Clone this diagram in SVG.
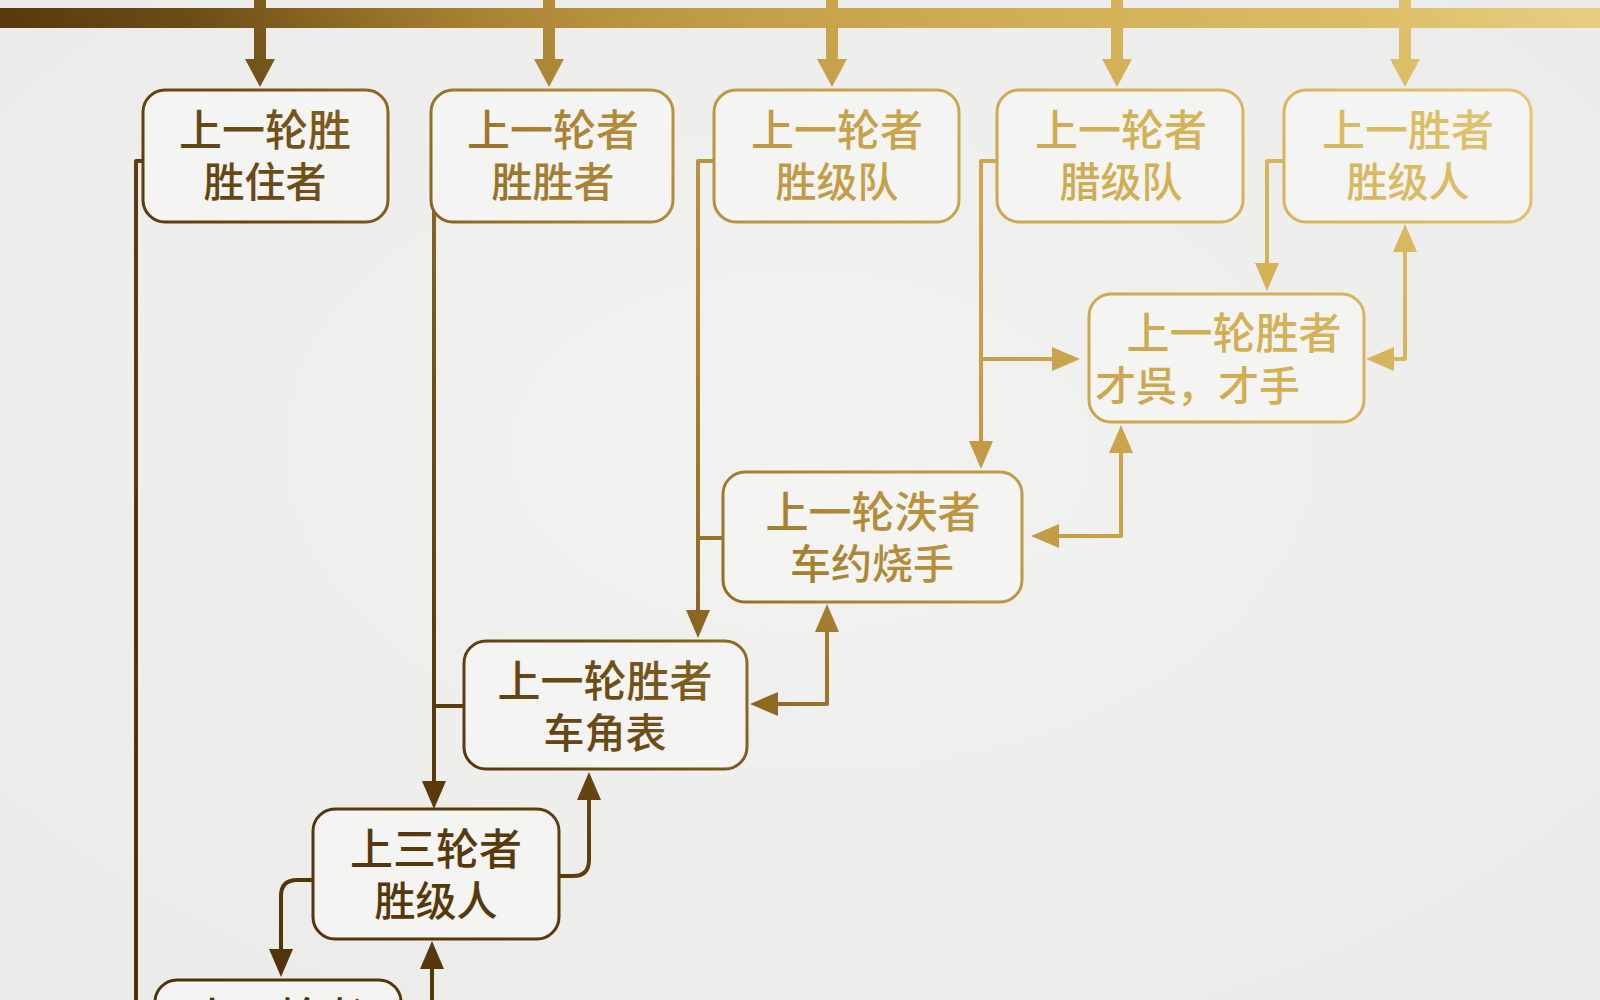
<svg xmlns="http://www.w3.org/2000/svg" width="1600" height="1000" viewBox="0 0 1600 1000">
<defs>
<linearGradient id="gold" gradientUnits="userSpaceOnUse" x1="0" y1="1000" x2="1600" y2="0">
<stop offset="0" stop-color="#4a2f08"/>
<stop offset="0.28" stop-color="#5a3a0c"/>
<stop offset="0.36" stop-color="#6c4c16"/>
<stop offset="0.43" stop-color="#8e6a24"/>
<stop offset="0.49" stop-color="#a88232"/>
<stop offset="0.55" stop-color="#b8923e"/>
<stop offset="0.62" stop-color="#c6a048"/>
<stop offset="0.75" stop-color="#d2b055"/>
<stop offset="0.88" stop-color="#dbbc63"/>
<stop offset="1" stop-color="#e7cf85"/>
</linearGradient>
<radialGradient id="bg" cx="0.5" cy="0.45" r="0.75">
<stop offset="0" stop-color="#f2f2f0"/>
<stop offset="1" stop-color="#eaeae8"/>
</radialGradient>
</defs>
<style>
.box{fill:#f4f4f2;stroke:url(#gold);stroke-width:3}
.t1{font-family:"Noto Sans CJK SC","Noto Sans",sans-serif;font-size:43px;font-weight:500;fill:url(#gold);text-anchor:middle}
.t2{font-family:"Noto Sans CJK SC","Noto Sans",sans-serif;font-size:41px;font-weight:500;fill:url(#gold);text-anchor:middle}
.ln{fill:none;stroke:url(#gold);stroke-width:4;stroke-linejoin:round}
.head{fill:url(#gold)}
.bar{fill:url(#gold)}
</style>
<rect width="1600" height="1000" fill="url(#bg)"/>

<g id="topbar">
<rect class="bar" x="0" y="8" width="1600" height="20"/>
<rect class="bar" x="254" y="0" width="12" height="62"/>
<polygon class="head" points="245,59 275,59 260,87"/>
<rect class="bar" x="543" y="0" width="12" height="62"/>
<polygon class="head" points="534,59 564,59 549,87"/>
<rect class="bar" x="826" y="0" width="12" height="62"/>
<polygon class="head" points="817,59 847,59 832,87"/>
<rect class="bar" x="1111" y="0" width="12" height="62"/>
<polygon class="head" points="1102,59 1132,59 1117,87"/>
<rect class="bar" x="1399" y="0" width="12" height="62"/>
<polygon class="head" points="1390,59 1420,59 1405,87"/>
</g>

<g id="connectors">
<path class="ln" d="M143,161 H136 V1000"/>
<path class="ln" d="M434,165 V782"/>
<path class="ln" d="M434,706 H464"/>
<polygon class="head" points="422,781 446,781 434,809"/>
<path class="ln" d="M714,161 H698 V611"/>
<path class="ln" d="M698,538 H723"/>
<polygon class="head" points="686,610 710,610 698,638"/>
<path class="ln" d="M997,161 H981 V442"/>
<path class="ln" d="M981,359 H1053"/>
<polygon class="head" points="1052,347 1052,371 1080,359"/>
<polygon class="head" points="969,441 993,441 981,469"/>
<path class="ln" d="M1284,161 H1267 V264"/>
<polygon class="head" points="1255,263 1279,263 1267,291"/>
<path class="ln" d="M1393,359 H1405 V251"/>
<polygon class="head" points="1394,347 1394,371 1366,359"/>
<polygon class="head" points="1393,252 1417,252 1405,224"/>
<path class="ln" d="M1058,536 H1121 V452"/>
<polygon class="head" points="1059,524 1059,548 1031,536"/>
<polygon class="head" points="1109,453 1133,453 1121,425"/>
<path class="ln" d="M777,704 H827 V631"/>
<polygon class="head" points="778,692 778,716 750,704"/>
<polygon class="head" points="815,632 839,632 827,604"/>
<path class="ln" d="M559,876 H573 Q589,876 589,860 V799"/>
<polygon class="head" points="577,800 601,800 589,772"/>
<path class="ln" d="M313,880 H297 Q281,880 281,896 V950"/>
<polygon class="head" points="269,949 293,949 281,977"/>
<path class="ln" d="M432,1000 V968"/>
<polygon class="head" points="420,969 444,969 432,941"/>
</g>

<g id="n1">
<rect class="box" x="143" y="90" width="245" height="132" rx="22"/>
<text class="t1" x="265" y="146">上一轮胜</text>
<text class="t2" x="265" y="197">胜住者</text>
</g>
<g id="n2">
<rect class="box" x="431" y="90" width="242" height="132" rx="22"/>
<text class="t1" x="553" y="146">上一轮者</text>
<text class="t2" x="553" y="197">胜胜者</text>
</g>
<g id="n3">
<rect class="box" x="714" y="90" width="245" height="132" rx="22"/>
<text class="t1" x="837" y="146">上一轮者</text>
<text class="t2" x="837" y="197">胜级队</text>
</g>
<g id="n4">
<rect class="box" x="997" y="90" width="246" height="132" rx="22"/>
<text class="t1" x="1121" y="146">上一轮者</text>
<text class="t2" x="1121" y="197">腊级队</text>
</g>
<g id="n5">
<rect class="box" x="1284" y="90" width="247" height="132" rx="22"/>
<text class="t1" x="1408" y="146">上一胜者</text>
<text class="t2" x="1408" y="197">胜级人</text>
</g>
<g id="n6">
<rect class="box" x="1089" y="294" width="275" height="128" rx="22"/>
<text class="t1" x="1234" y="349">上一轮胜者</text>
<text class="t2" x="1095" y="401" style="text-anchor:start">才呉，才手</text>
</g>
<g id="n7">
<rect class="box" x="723" y="472" width="299" height="130" rx="22"/>
<text class="t1" x="873" y="528">上一轮泆者</text>
<text class="t2" x="872" y="579">车约烧手</text>
</g>
<g id="n8">
<rect class="box" x="464" y="641" width="283" height="128" rx="22"/>
<text class="t1" x="605" y="697">上一轮胜者</text>
<text class="t2" x="605" y="748">车角表</text>
</g>
<g id="n9">
<rect class="box" x="313" y="809" width="246" height="130" rx="22"/>
<text class="t1" x="436" y="865">上三轮者</text>
<text class="t2" x="436" y="916">胜级人</text>
</g>
<g id="n10">
<rect class="box" x="155" y="980" width="246" height="130" rx="22"/>
<text class="t1" x="278" y="1034">上一轮者</text>
</g>
</svg>
